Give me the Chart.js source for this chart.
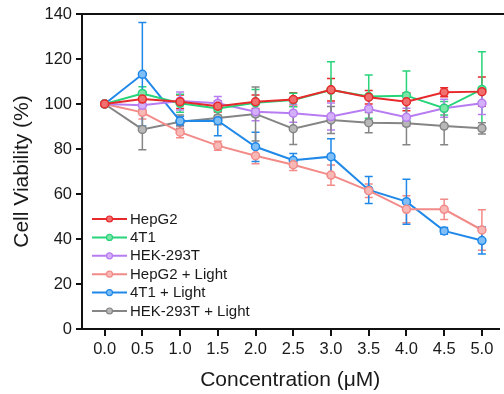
<!DOCTYPE html>
<html>
<head>
<meta charset="utf-8">
<script src="https://cdn.jsdelivr.net/npm/chart.js@4/dist/chart.umd.min.js"></script>
<style>
  html, body { margin: 0; padding: 0; background: #fff; }
  #wrap { width: 504px; height: 394px; }
</style>
</head>
<body>
<div id="wrap"><canvas id="c" width="504" height="394"></canvas></div>
<script>
// Concentrations (µM) and tick labels
const concentrations = [0, 0.5, 1.0, 1.5, 2.0, 2.5, 3.0, 3.5, 4.0, 4.5, 5.0];
const xTickLabels = ['0.0', '0.5', '1.0', '1.5', '2.0', '2.5', '3.0', '3.5', '4.0', '4.5', '5.0'];
const yTickValues = [0, 20, 40, 60, 80, 100, 120, 140];

// Series names
const seriesNames = ['HepG2', '4T1', 'HEK-293T', 'HepG2 + Light', '4T1 + Light', 'HEK-293T + Light'];

// Cell viability (%) — means
const hepg2      = [100, 102.2, 101.0, 99.0, 101.0, 102.0, 106.3, 103.0, 101.0, 105.2, 105.5];
const t41        = [100, 104.7, 100.3, 98.0, 100.5, 101.8, 106.2, 103.3, 103.7, 98.1, 106.5];
const hek293t    = [100, 99.5, 101.3, 100.3, 96.6, 95.9, 94.4, 97.8, 94.1, 98.1, 100.3];
const hepg2Light = [100, 96.3, 87.5, 81.5, 77.0, 73.0, 68.4, 61.5, 53.2, 53.2, 44.0];
const t41Light   = [100, 113.2, 92.4, 92.6, 81.0, 75.0, 76.6, 61.8, 56.6, 43.6, 39.3];
const hekLight   = [100, 88.7, 92.1, 93.8, 95.6, 89.0, 92.9, 91.7, 91.4, 90.2, 89.2];

// Standard deviations
const hepg2Err      = [0, 3, 3, 2.5, 3, 3, 5, 3, 4, 2, 6.5];
const t41Err        = [0, 3, 4, 3, 6, 3, 12.6, 9.6, 11, 3, 16.7];
const hek293tErr    = [0, 2, 4, 3, 4, 4, 6, 5, 4, 4, 5];
const hepg2LightErr = [0, 3, 2.5, 2, 3.5, 2.5, 4.5, 3, 6, 4.5, 9];
const t41LightErr   = [0, 23, 2, 6.7, 6.5, 3, 8, 6, 10, 1.5, 6];
const hekLightErr   = [0, 9, 3, 3, 12, 7, 6, 4.5, 9.5, 8.3, 2.5];

const seriesValues = [hepg2, t41, hek293t, hepg2Light, t41Light, hekLight];
const seriesErrors = [hepg2Err, t41Err, hek293tErr, hepg2LightErr, t41LightErr, hekLightErr];
const lineColors  = ['#e8292b', '#27d47a', '#b87cf2', '#f28a88', '#1f88e8', '#858585'];
const pointFills  = ['#f07070', '#7ce6a8', '#d4b0f8', '#f8b8b6', '#80bff5', '#b8b8b8'];

const datasets = seriesNames.map((name, i) => ({
  label: name,
  data: concentrations.map((x, j) => ({ x: x, y: seriesValues[i][j] })),
  errors: seriesErrors[i],
  borderColor: lineColors[i],
  backgroundColor: pointFills[i],
  pointBackgroundColor: pointFills[i],
  pointBorderColor: lineColors[i],
  pointBorderWidth: 1.5,
  pointRadius: 4,
  borderWidth: 2,
  tension: 0,
  fill: false
}));

// Error bars with caps, drawn beneath the lines
const errorBars = {
  id: 'errorBars',
  beforeDatasetsDraw(chart) {
    const { ctx, scales: { x, y } } = chart;
    ctx.save();
    chart.data.datasets.forEach((ds) => {
      ctx.strokeStyle = ds.borderColor;
      ctx.lineWidth = 1.5;
      ds.data.forEach((p, j) => {
        const e = ds.errors[j];
        if (!e) return;
        const px = x.getPixelForValue(p.x);
        const top = y.getPixelForValue(p.y + e);
        const bot = y.getPixelForValue(p.y - e);
        ctx.beginPath();
        ctx.moveTo(px, top); ctx.lineTo(px, bot);
        ctx.moveTo(px - 4, top); ctx.lineTo(px + 4, top);
        ctx.moveTo(px - 4, bot); ctx.lineTo(px + 4, bot);
        ctx.stroke();
      });
    });
    ctx.restore();
  }
};

// Top frame line
const topFrame = {
  id: 'topFrame',
  afterDraw(chart) {
    const { ctx, chartArea } = chart;
    ctx.save();
    ctx.strokeStyle = '#111';
    ctx.lineWidth = 2;
    ctx.beginPath();
    ctx.moveTo(chartArea.left - 1, chartArea.top);
    ctx.lineTo(chart.width, chartArea.top);
    ctx.stroke();
    ctx.restore();
  }
};

// Legend inside the plot: line + dot, then label
const insideLegend = {
  id: 'insideLegend',
  afterDraw(chart) {
    const { ctx, chartArea } = chart;
    const x0 = chartArea.left + 10;
    const y0 = chartArea.top + 205;
    const rowH = 18.4;
    ctx.save();
    ctx.font = '15px "Liberation Sans", Arial, sans-serif';
    ctx.textBaseline = 'middle';
    ctx.textAlign = 'left';
    chart.data.datasets.forEach((ds, i) => {
      const yy = y0 + i * rowH;
      ctx.strokeStyle = ds.borderColor;
      ctx.lineWidth = 2;
      ctx.beginPath();
      ctx.moveTo(x0, yy); ctx.lineTo(x0 + 35, yy);
      ctx.stroke();
      ctx.fillStyle = ds.pointBackgroundColor;
      ctx.beginPath();
      ctx.arc(x0 + 17.5, yy, 3, 0, Math.PI * 2);
      ctx.fill();
      ctx.lineWidth = 1.2;
      ctx.stroke();
      ctx.fillStyle = '#1a1a1a';
      ctx.fillText(ds.label, x0 + 38, yy + 0.5);
    });
    ctx.restore();
  }
};

const tickFont = { family: '"Liberation Sans", Arial, sans-serif', size: 16.5 };
const titleFont = { family: '"Liberation Sans", Arial, sans-serif', size: 21 };

new Chart(document.getElementById('c'), {
  type: 'line',
  data: { datasets: datasets },
  plugins: [errorBars, topFrame, insideLegend],
  options: {
    responsive: false,
    animation: false,
    devicePixelRatio: 1,
    layout: { padding: { top: 14, right: 0, left: 0, bottom: 0 } },
    plugins: { legend: { display: false }, tooltip: { enabled: false } },
    scales: {
      x: {
        type: 'linear',
        min: -0.3,
        max: 5.22,
        afterBuildTicks: (axis) => { axis.ticks = concentrations.map(v => ({ value: v })); },
        afterFit: (axis) => { axis.height = 65; },
        ticks: {
          color: '#1a1a1a',
          font: tickFont,
          padding: 4,
          maxRotation: 0,
          autoSkip: false,
          callback: (value) => xTickLabels[concentrations.indexOf(value)]
        },
        grid: { drawOnChartArea: false, drawTicks: true, tickLength: 7, color: '#111', lineWidth: 2 },
        border: { display: true, color: '#111', width: 2 },
        title: { display: true, text: 'Concentration (μM)', color: '#1a1a1a', font: titleFont, padding: { top: 0, bottom: 1 } }
      },
      y: {
        min: 0,
        max: 140,
        afterBuildTicks: (axis) => { axis.ticks = yTickValues.map(v => ({ value: v })); },
        afterFit: (axis) => { axis.width = 82; },
        ticks: { color: '#1a1a1a', font: tickFont, padding: 4 },
        grid: { drawOnChartArea: false, drawTicks: true, tickLength: 6, color: '#111', lineWidth: 2 },
        border: { display: true, color: '#111', width: 2 },
        title: { display: true, text: 'Cell Viability (%)', color: '#1a1a1a', font: titleFont, padding: { top: 10, bottom: 0 } }
      }
    }
  }
});
</script>
</body>
</html>
